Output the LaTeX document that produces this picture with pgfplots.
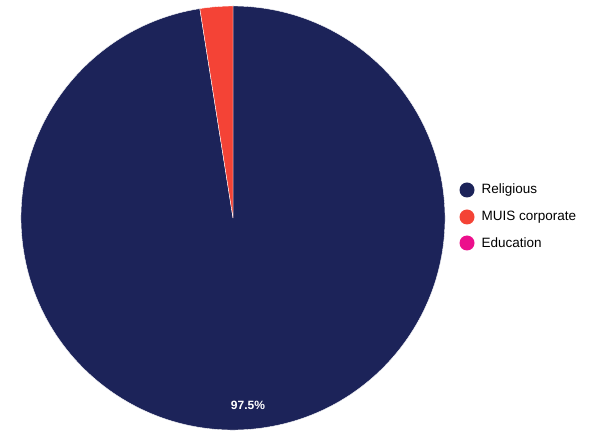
\documentclass[border=0pt]{standalone}
\usepackage{pgfplots}
\pgfplotsset{compat=1.18}
\usepackage{fontspec}
\setmainfont{Liberation Sans}
\definecolor{navy}{HTML}{1C2359}
\definecolor{redc}{HTML}{F44336}
\definecolor{magc}{HTML}{EC0F8C}
\begin{document}
\begin{tikzpicture}
\begin{axis}[width=608pt,height=436pt,scale only axis,xmin=0,xmax=608,ymin=0,ymax=436,hide axis,clip=false,anchor=south west,at={(0,0)}]
% values: Religious 97.5, MUIS corporate 2.5, Education 0
\fill[navy,draw=white,line width=0.4pt] (axis cs:233,218) -- ++(99:212pt) arc[start angle=99,end angle=450,radius=212pt] -- cycle;
\fill[redc,draw=white,line width=0.4pt] (axis cs:233,218) -- ++(90:212pt) arc[start angle=90,end angle=99,radius=212pt] -- cycle;
\node[text=white,font=\bfseries\fontsize{12}{14}\selectfont] at (axis cs:248,31) {97.5\%};
\fill[navy] (axis cs:467,246) circle (7.5pt);
\node[anchor=west,font=\fontsize{13.5}{16}\selectfont] at (axis cs:478,246) {Religious};
\fill[redc] (axis cs:467,219) circle (7.5pt);
\node[anchor=west,font=\fontsize{13.5}{16}\selectfont] at (axis cs:478,219) {MUIS corporate};
\fill[magc] (axis cs:467,193) circle (7.5pt);
\node[anchor=west,font=\fontsize{13.5}{16}\selectfont] at (axis cs:478,193) {Education};
\end{axis}
\pgfresetboundingbox
\path[use as bounding box] (0,0) rectangle (608pt,436pt);
\end{tikzpicture}
\end{document}
